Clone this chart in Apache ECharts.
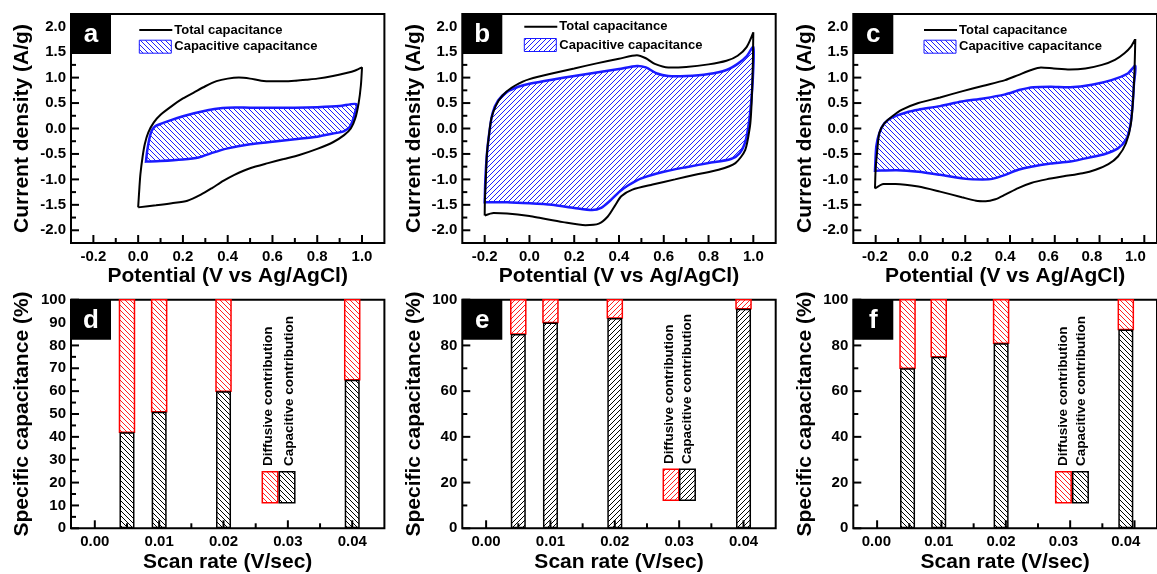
<!DOCTYPE html>
<html><head><meta charset="utf-8">
<script src="https://cdn.jsdelivr.net/npm/echarts@6/dist/echarts.min.js"></script>
<style>html,body{margin:0;padding:0;background:#fff}#c{width:1157px;height:574px}</style>
</head><body><div id="c"></div>
<script>
// ---------- DATA ----------
// Panel a (CV curves, closed loops: [potential V, current A/g])
const aTotal = [[0.0,-1.55],[0.005,-1.2],[0.01,-0.9],[0.02,-0.55],[0.03,-0.3],[0.045,-0.08],[0.07,0.12],[0.1,0.27],[0.15,0.44],[0.2,0.59],[0.25,0.71],[0.3,0.83],[0.35,0.93],[0.4,0.98],[0.45,1.0],[0.5,0.98],[0.55,0.94],[0.6,0.93],[0.65,0.93],[0.7,0.94],[0.75,0.96],[0.8,0.98],[0.87,1.03],[0.93,1.09],[0.97,1.14],[1.0,1.2],[0.995,0.85],[0.985,0.5],[0.97,0.2],[0.95,0.0],[0.92,-0.13],[0.87,-0.27],[0.8,-0.4],[0.72,-0.52],[0.65,-0.6],[0.58,-0.68],[0.5,-0.78],[0.43,-0.91],[0.38,-1.03],[0.33,-1.17],[0.28,-1.3],[0.22,-1.42],[0.15,-1.47],[0.08,-1.51],[0.0,-1.55]];
const aCap = [[0.035,-0.65],[0.04,-0.45],[0.05,-0.2],[0.06,-0.05],[0.075,0.04],[0.1,0.09],[0.15,0.17],[0.2,0.24],[0.25,0.3],[0.3,0.35],[0.35,0.39],[0.4,0.41],[0.5,0.41],[0.6,0.41],[0.7,0.41],[0.8,0.42],[0.9,0.44],[0.975,0.48],[0.968,0.3],[0.958,0.15],[0.945,0.03],[0.92,-0.05],[0.87,-0.1],[0.8,-0.16],[0.7,-0.21],[0.6,-0.26],[0.5,-0.31],[0.4,-0.39],[0.33,-0.48],[0.27,-0.57],[0.2,-0.61],[0.1,-0.64],[0.035,-0.65]];
// Panel b
const bTotal = [[-0.2,-1.71],[-0.199,-1.4],[-0.195,-1.0],[-0.19,-0.5],[-0.18,-0.1],[-0.17,0.2],[-0.15,0.45],[-0.12,0.65],[-0.08,0.8],[-0.03,0.92],[0.0,0.97],[0.1,1.08],[0.2,1.18],[0.3,1.28],[0.4,1.37],[0.48,1.44],[0.52,1.38],[0.56,1.27],[0.62,1.2],[0.7,1.21],[0.8,1.26],[0.88,1.33],[0.93,1.43],[0.97,1.6],[1.0,1.89],[0.998,1.3],[0.995,0.8],[0.99,0.3],[0.985,0.04],[0.964,-0.42],[0.92,-0.68],[0.845,-0.81],[0.75,-0.9],[0.65,-1.0],[0.55,-1.1],[0.46,-1.2],[0.41,-1.33],[0.38,-1.53],[0.35,-1.73],[0.31,-1.87],[0.25,-1.9],[0.15,-1.84],[0.05,-1.76],[0.0,-1.72],[-0.1,-1.67],[-0.16,-1.66],[-0.2,-1.71]];
const bCap = [[-0.2,-1.45],[-0.197,-1.0],[-0.19,-0.5],[-0.18,-0.1],[-0.165,0.3],[-0.14,0.55],[-0.1,0.72],[-0.05,0.82],[0.0,0.88],[0.1,0.96],[0.2,1.03],[0.3,1.1],[0.4,1.17],[0.48,1.23],[0.52,1.2],[0.57,1.08],[0.62,1.03],[0.7,1.03],[0.8,1.07],[0.88,1.15],[0.93,1.27],[0.97,1.42],[1.0,1.6],[0.998,1.0],[0.99,0.5],[0.98,0.1],[0.965,-0.25],[0.94,-0.48],[0.9,-0.6],[0.8,-0.68],[0.7,-0.76],[0.6,-0.85],[0.5,-0.98],[0.44,-1.12],[0.4,-1.25],[0.36,-1.42],[0.32,-1.56],[0.28,-1.6],[0.2,-1.56],[0.1,-1.5],[0.0,-1.47],[-0.1,-1.45],[-0.2,-1.45]];
// Panel c
const cTotal = [[-0.2,-1.18],[-0.197,-0.8],[-0.19,-0.45],[-0.18,-0.09],[-0.157,0.1],[-0.12,0.24],[-0.075,0.37],[0.0,0.5],[0.1,0.61],[0.2,0.73],[0.3,0.84],[0.4,0.95],[0.46,1.05],[0.52,1.15],[0.565,1.2],[0.624,1.18],[0.698,1.16],[0.77,1.18],[0.846,1.25],[0.906,1.35],[0.95,1.48],[0.98,1.61],[1.0,1.76],[0.994,0.89],[0.98,0.1],[0.957,-0.29],[0.92,-0.55],[0.876,-0.7],[0.817,-0.81],[0.757,-0.88],[0.67,-0.94],[0.59,-1.0],[0.52,-1.07],[0.46,-1.17],[0.4,-1.3],[0.355,-1.39],[0.31,-1.43],[0.266,-1.42],[0.2,-1.35],[0.1,-1.24],[0.0,-1.14],[-0.105,-1.09],[-0.16,-1.09],[-0.2,-1.18]];
const cCap = [[-0.2,-0.83],[-0.194,-0.35],[-0.18,-0.09],[-0.157,0.1],[-0.12,0.22],[-0.045,0.33],[0.0,0.37],[0.1,0.44],[0.2,0.53],[0.3,0.59],[0.4,0.67],[0.47,0.76],[0.53,0.81],[0.61,0.82],[0.7,0.81],[0.8,0.86],[0.89,0.95],[0.965,1.08],[1.0,1.23],[0.994,0.89],[0.987,0.43],[0.976,0.04],[0.957,-0.22],[0.92,-0.39],[0.86,-0.5],[0.8,-0.56],[0.7,-0.65],[0.61,-0.69],[0.52,-0.75],[0.46,-0.81],[0.4,-0.91],[0.34,-0.99],[0.296,-1.0],[0.22,-0.99],[0.1,-0.91],[0.0,-0.85],[-0.1,-0.82],[-0.2,-0.83]];
// Bar panels d, e, f
const scanRates = [0.005, 0.01, 0.02, 0.04];
const dCapacitive = [42, 51, 60, 65];
const dDiffusive  = [58, 49, 40, 35];
const eCapacitive = [85, 90, 92, 96];
const eDiffusive  = [15, 10, 8, 4];
const fCapacitive = [70, 75, 81, 87];
const fDiffusive  = [30, 25, 19, 13];
// tick labels / tick positions
const cvXLabels = [-0.2, 0.0, 0.2, 0.4, 0.6, 0.8, 1.0];
const cvXMinor = [-0.1, 0.1, 0.3, 0.5, 0.7, 0.9];
const cvYLabels = [-2.0, -1.5, -1.0, -0.5, 0.0, 0.5, 1.0, 1.5, 2.0];
const cvYMinor = [-1.75, -1.25, -0.75, -0.25, 0.25, 0.75, 1.25, 1.75];
const srXLabels = [0.0, 0.01, 0.02, 0.03, 0.04];
const srXMinor = [0.005, 0.015, 0.025, 0.035];
const dYLabels = [0, 10, 20, 30, 40, 50, 60, 70, 80, 90, 100];
const dYMinor = [5, 15, 25, 35, 45, 55, 65, 75, 85, 95];
const efYLabels = [0, 20, 40, 60, 80, 100];
const efYMinor = [10, 30, 50, 70, 90];
const panelLetters = ['a', 'b', 'c', 'd', 'e', 'f'];

// ---------- STYLE HELPERS ----------
const FONT = "'Liberation Sans', Arial, sans-serif";
function hatch(color, dir, size, lw) {
  const c = document.createElement('canvas');
  c.width = c.height = size;
  const g = c.getContext('2d');
  g.fillStyle = '#fff'; g.fillRect(0, 0, size, size);
  g.strokeStyle = color; g.lineWidth = lw;
  g.beginPath();
  for (let k = -1; k <= 1; k++) {
    if (dir === '\\') { g.moveTo(k * size, 0); g.lineTo(k * size + size, size); }
    else { g.moveTo(k * size, size); g.lineTo(k * size + size, 0); }
  }
  g.stroke();
  return { image: c, repeat: 'repeat' };
}
const blueBack = hatch('#1f1fff', '\\', 5, 1);
const blueFwd = hatch('#1f1fff', '/', 5, 1);
const redBack = hatch('#ff2020', '\\', 5, 1);
const redFwd = hatch('#ff2020', '/', 5, 1);
const blkBack = hatch('#000', '\\', 5, 1);
const blkFwd = hatch('#000', '/', 5, 1);

const lefts = [71, 462.3, 853.3];
const W = 313.4;
const grids = [];
for (let i = 0; i < 3; i++) grids.push({ left: lefts[i], top: 14, width: W, height: 229 });
for (let i = 0; i < 3; i++) grids.push({ left: lefts[i], top: 299.7, width: W, height: 228.6 });
grids.forEach(g => { g.show = true; g.borderColor = '#000'; g.borderWidth = 2; g.backgroundColor = 'transparent'; });

const labelStyle = { color: '#000', fontSize: 15, fontWeight: 'bold', fontFamily: FONT };
const nameStyle = { color: '#000', fontSize: 21, fontWeight: 'bold', fontFamily: FONT };
const noLine = { show: false, onZero: false };

const ranges = [];
const xAxes = [], yAxes = [];
for (let i = 0; i < 6; i++) {
  const top = i < 3;
  const xr = top ? [-0.3, 1.1] : [-0.0037, 0.045];
  const yr = top ? [-2.25, 2.25] : [0, 100];
  const yLab = top ? cvYLabels : (i === 3 ? dYLabels : efYLabels);
  ranges.push({ xr, yr,
    xMaj: top ? cvXLabels : srXLabels, xMin: top ? cvXMinor : srXMinor,
    yMaj: yLab, yMin: top ? cvYMinor : (i === 3 ? dYMinor : efYMinor) });
  xAxes.push({
    gridIndex: i, type: 'value', position: 'bottom', min: xr[0], max: xr[1],
    axisLine: noLine, splitLine: { show: false }, axisTick: { show: false },
    axisLabel: { customValues: top ? cvXLabels : srXLabels, formatter: v => v.toFixed(top ? 1 : 2), margin: 6, ...labelStyle },
    name: top ? 'Potential (V vs Ag/AgCl)' : 'Scan rate (V/sec)', nameLocation: 'middle', nameGap: 23,
    nameTextStyle: nameStyle
  });
  yAxes.push({
    gridIndex: i, type: 'value', position: 'left', min: yr[0], max: yr[1],
    axisLine: noLine, splitLine: { show: false }, axisTick: { show: false },
    axisLabel: { customValues: yLab, formatter: v => top ? v.toFixed(1) : String(v), margin: 5, ...labelStyle },
    name: top ? 'Current density (A/g)' : 'Specific capacitance (%)', nameLocation: 'middle', nameGap: 38,
    nameTextStyle: nameStyle
  });
}

const series = [];
function loopFill(points, gi, pattern) {
  series.push({
    type: 'custom', xAxisIndex: gi, yAxisIndex: gi, data: points, z: 2,
    renderItem: (params, api) => {
      if (params.dataIndex !== 0) return null;
      const pts = points.map(p => api.coord(p));
      return { type: 'polygon', shape: { points: pts, smooth: 0.25 },
        style: { fill: pattern, stroke: '#1a1aff', lineWidth: 2.5 } };
    }
  });
}
function loopLine(points, gi) {
  series.push({ type: 'line', xAxisIndex: gi, yAxisIndex: gi, data: points, showSymbol: false,
    smooth: 0.25, z: 3, lineStyle: { color: '#000', width: 2 } });
}
loopFill(aCap, 0, blueBack); loopLine(aTotal, 0);
loopFill(bCap, 1, blueFwd); loopLine(bTotal, 1);
loopFill(cCap, 2, blueBack); loopLine(cTotal, 2);

const BAR_W = 15;
function bars(cap, dif, gi, capPat, difPat) {
  series.push({ type: 'bar', name: 'Capacitive contribution', xAxisIndex: gi, yAxisIndex: gi, barWidth: BAR_W, z: 3,
    data: scanRates.map((r, k) => [r, cap[k]]), itemStyle: { color: capPat, borderColor: '#000', borderWidth: 1.5 } });
  series.push({ type: 'custom', name: 'Diffusive contribution', xAxisIndex: gi, yAxisIndex: gi, z: 3,
    data: scanRates.map((r, k) => [r, cap[k], dif[k]]),
    renderItem: (params, api) => {
      const x = api.value(0), base = api.value(1), h = api.value(2);
      const p0 = api.coord([x, base]), p1 = api.coord([x, base + h]);
      return { type: 'rect', shape: { x: p0[0] - BAR_W / 2, y: p1[1], width: BAR_W, height: p0[1] - p1[1] },
        style: { fill: difPat, stroke: '#ff0000', lineWidth: 1.5 } };
    }
  });
}
bars(dCapacitive, dDiffusive, 3, blkBack, redBack);
bars(eCapacitive, eDiffusive, 4, blkFwd, redFwd);
bars(fCapacitive, fDiffusive, 5, blkBack, redBack);

// ---------- annotations (panel letters + legends) ----------
const graphic = [];
const boxTops = [14, 14, 14, 299.7, 299.7, 299.7];
for (let i = 0; i < 6; i++) {
  const l = lefts[i % 3], t = boxTops[i];
  graphic.push({ type: 'rect', shape: { x: l, y: t, width: 40, height: 40 }, style: { fill: '#000' }, z: 10 });
  graphic.push({ type: 'text', x: l + 20, y: t + 21, style: { text: panelLetters[i], fill: '#fff', font: 'bold 26px ' + FONT, align: 'center', verticalAlign: 'middle' }, z: 11 });
}
const cvLeg = [{ x: 139.3, y1: 30, y2: 46.7, pat: blueBack }, { x: 524.3, y1: 26.7, y2: 45, pat: blueFwd }, { x: 924, y1: 30, y2: 46.7, pat: blueBack }];
cvLeg.forEach(L => {
  graphic.push({ type: 'line', shape: { x1: L.x, y1: L.y1, x2: L.x + 33, y2: L.y1 }, style: { stroke: '#000', lineWidth: 2 }, z: 10 });
  graphic.push({ type: 'text', x: L.x + 35, y: L.y1, style: { text: 'Total capacitance', fill: '#000', font: 'bold 13px ' + FONT, verticalAlign: 'middle' }, z: 10 });
  graphic.push({ type: 'rect', shape: { x: L.x, y: L.y2 - 6.5, width: 32, height: 13 }, style: { fill: L.pat, stroke: '#1a1aff', lineWidth: 1 }, z: 10 });
  graphic.push({ type: 'text', x: L.x + 35, y: L.y2, style: { text: 'Capacitive capacitance', fill: '#000', font: 'bold 13px ' + FONT, verticalAlign: 'middle' }, z: 10 });
});
const barLeg = [
  { rx: 262.3, bx: 279.3, y: 471.7, tx1: 268.5, tx2: 289, ty: 466, rp: redBack, bp: blkBack },
  { rx: 663.3, bx: 679.7, y: 469.3, tx1: 669.7, tx2: 687.5, ty: 464, rp: redFwd, bp: blkFwd },
  { rx: 1055.7, bx: 1072.7, y: 471.7, tx1: 1063, tx2: 1081, ty: 466, rp: redBack, bp: blkBack }
];
barLeg.forEach(L => {
  graphic.push({ type: 'rect', shape: { x: L.rx, y: L.y, width: 15.5, height: 31 }, style: { fill: L.rp, stroke: '#ff0000', lineWidth: 1.5 }, z: 10 });
  graphic.push({ type: 'rect', shape: { x: L.bx, y: L.y, width: 15.5, height: 31 }, style: { fill: L.bp, stroke: '#000', lineWidth: 1.5 }, z: 10 });
  graphic.push({ type: 'text', x: L.tx1, y: L.ty, rotation: Math.PI / 2, style: { text: 'Diffusive contribution', fill: '#000', font: 'bold 13.5px ' + FONT, align: 'left', verticalAlign: 'middle' }, z: 10 });
  graphic.push({ type: 'text', x: L.tx2, y: L.ty, rotation: Math.PI / 2, style: { text: 'Capacitive contribution', fill: '#000', font: 'bold 13.5px ' + FONT, align: 'left', verticalAlign: 'middle' }, z: 10 });
});

// ---------- inward tick marks (axis decoration, same linear mapping as each grid's axes) ----------
function tickLine(gi, val, isX, len) {
  const G = grids[gi], R = ranges[gi];
  if (isX) {
    const x = G.left + (val - R.xr[0]) / (R.xr[1] - R.xr[0]) * G.width;
    const yb = G.top + G.height;
    return { type: 'line', z: 20, silent: true, shape: { x1: x, y1: yb, x2: x, y2: yb - len }, style: { stroke: '#000', lineWidth: 2 } };
  }
  const y = G.top + G.height - (val - R.yr[0]) / (R.yr[1] - R.yr[0]) * G.height;
  return { type: 'line', z: 20, silent: true, shape: { x1: G.left, y1: y, x2: G.left + len, y2: y }, style: { stroke: '#000', lineWidth: 2 } };
}
for (let i = 0; i < 6; i++) {
  const R = ranges[i];
  R.xMaj.forEach(v => graphic.push(tickLine(i, v, true, 8)));
  R.xMin.forEach(v => graphic.push(tickLine(i, v, true, 5)));
  R.yMaj.forEach(v => graphic.push(tickLine(i, v, false, 8)));
  R.yMin.forEach(v => graphic.push(tickLine(i, v, false, 5)));
}

const chart = echarts.init(document.getElementById('c'), null, { renderer: 'canvas', width: 1157, height: 574 });
chart.setOption({
  animation: false,
  backgroundColor: '#fff',
  grid: grids, xAxis: xAxes, yAxis: yAxes, series: series, graphic: graphic
});
</script>
</body></html>
